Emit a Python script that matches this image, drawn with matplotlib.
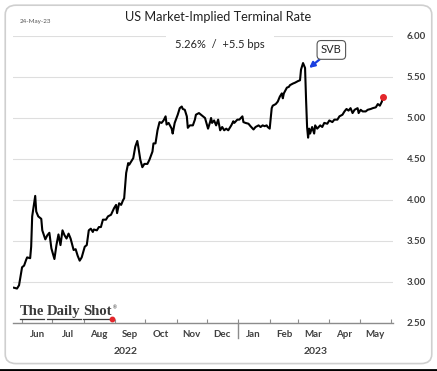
import pandas as pd
import matplotlib
matplotlib.use('Agg')
import matplotlib.pyplot as plt
import matplotlib.dates as mdates
from matplotlib.patches import FancyBboxPatch
from matplotlib.lines import Line2D
from matplotlib.ticker import FormatStrFormatter

plt.rcParams['font.family'] = ['Lato', 'DejaVu Sans']

# terminal rate (%), roughly every 2-3 days
dates = [
    '2022-05-24', '2022-05-27', '2022-05-29', '2022-06-01', '2022-06-03', '2022-06-05',
    '2022-06-06', '2022-06-09', '2022-06-10', '2022-06-11', '2022-06-14', '2022-06-15',
    '2022-06-17', '2022-06-20', '2022-06-21', '2022-06-24', '2022-06-26', '2022-06-28',
    '2022-06-30', '2022-07-03', '2022-07-05', '2022-07-07', '2022-07-09', '2022-07-11',
    '2022-07-13', '2022-07-15', '2022-07-17', '2022-07-19', '2022-07-22', '2022-07-24',
    '2022-07-26', '2022-07-28', '2022-07-30', '2022-08-02', '2022-08-04', '2022-08-06',
    '2022-08-08', '2022-08-10', '2022-08-11', '2022-08-14', '2022-08-16', '2022-08-18',
    '2022-08-20', '2022-08-23', '2022-08-25', '2022-08-28', '2022-08-31', '2022-09-02',
    '2022-09-03', '2022-09-05', '2022-09-07', '2022-09-09', '2022-09-10', '2022-09-12',
    '2022-09-14', '2022-09-15', '2022-09-17', '2022-09-19', '2022-09-21', '2022-09-23',
    '2022-09-24', '2022-09-26', '2022-09-28', '2022-09-30', '2022-10-03', '2022-10-05',
    '2022-10-08', '2022-10-09', '2022-10-11', '2022-10-13', '2022-10-15', '2022-10-17',
    '2022-10-19', '2022-10-21', '2022-10-22', '2022-10-24', '2022-10-27', '2022-10-28',
    '2022-10-30', '2022-11-02', '2022-11-04', '2022-11-06', '2022-11-07', '2022-11-09',
    '2022-11-11', '2022-11-12', '2022-11-14', '2022-11-17', '2022-11-19', '2022-11-20',
    '2022-11-23', '2022-11-25', '2022-11-27', '2022-11-29', '2022-12-02', '2022-12-04',
    '2022-12-05', '2022-12-06', '2022-12-08', '2022-12-10', '2022-12-12', '2022-12-14',
    '2022-12-16', '2022-12-18', '2022-12-20', '2022-12-22', '2022-12-25', '2022-12-27',
    '2022-12-28', '2022-12-31', '2023-01-02', '2023-01-05', '2023-01-06', '2023-01-08',
    '2023-01-11', '2023-01-13', '2023-01-16', '2023-01-18', '2023-01-21', '2023-01-23',
    '2023-01-25', '2023-01-27', '2023-01-29', '2023-01-30', '2023-02-01', '2023-02-03',
    '2023-02-04', '2023-02-07', '2023-02-09', '2023-02-11', '2023-02-13', '2023-02-14',
    '2023-02-15', '2023-02-18', '2023-02-20', '2023-02-21', '2023-02-24', '2023-02-26',
    '2023-03-01', '2023-03-03', '2023-03-04', '2023-03-06', '2023-03-08', '2023-03-09',
    '2023-03-10', '2023-03-11', '2023-03-12', '2023-03-13', '2023-03-15', '2023-03-17',
    '2023-03-18', '2023-03-20', '2023-03-23', '2023-03-25', '2023-03-27', '2023-03-30',
    '2023-04-01', '2023-04-04', '2023-04-06', '2023-04-09', '2023-04-11', '2023-04-14',
    '2023-04-16', '2023-04-18', '2023-04-20', '2023-04-22', '2023-04-24', '2023-04-26',
    '2023-04-29', '2023-04-30', '2023-05-02', '2023-05-04', '2023-05-07', '2023-05-09',
    '2023-05-12', '2023-05-14', '2023-05-17', '2023-05-19', '2023-05-21', '2023-05-23',
    '2023-05-24',
]
rates = [
    2.93, 2.92, 2.96, 3.18, 3.20, 3.27,
    3.30, 3.29, 3.43, 3.80, 4.05, 3.86,
    3.80, 3.77, 3.63, 3.52, 3.57, 3.60,
    3.41, 3.28, 3.45, 3.58, 3.45, 3.63,
    3.57, 3.53, 3.59, 3.53, 3.39, 3.40,
    3.32, 3.26, 3.30, 3.43, 3.45, 3.63,
    3.65, 3.61, 3.64, 3.63, 3.67, 3.67,
    3.76, 3.76, 3.80, 3.82, 3.90, 3.94,
    3.84, 3.96, 3.94, 4.00, 4.02, 4.33,
    4.45, 4.43, 4.47, 4.51, 4.65, 4.72,
    4.65, 4.49, 4.40, 4.44, 4.44, 4.49,
    4.59, 4.69, 4.69, 4.85, 4.95, 4.94,
    4.97, 5.02, 4.92, 4.94, 4.87, 4.81,
    4.94, 5.04, 5.12, 5.14, 5.11, 5.10,
    5.02, 4.88, 4.91, 4.91, 4.98, 5.04,
    5.06, 5.04, 5.02, 5.00, 4.87, 4.95,
    5.00, 4.94, 4.97, 4.91, 4.98, 4.85,
    4.89, 4.85, 4.87, 4.85, 4.91, 4.96,
    4.94, 4.98, 4.98, 5.02, 4.95, 4.94,
    4.93, 4.90, 4.86, 4.89, 4.91, 4.89,
    4.91, 4.90, 4.91, 4.89, 4.87, 5.12,
    5.15, 5.17, 5.20, 5.26, 5.30, 5.24,
    5.30, 5.37, 5.38, 5.40, 5.42, 5.43,
    5.45, 5.46, 5.59, 5.67, 5.61, 5.22,
    4.89, 4.76, 4.87, 4.81, 4.89, 4.81,
    4.91, 4.87, 4.91, 4.89, 4.94, 4.93,
    4.97, 4.95, 4.98, 4.98, 5.02, 5.04,
    5.08, 5.11, 5.09, 5.12, 5.06, 5.10,
    5.12, 5.06, 5.10, 5.08, 5.08, 5.10,
    5.11, 5.12, 5.13, 5.17, 5.15, 5.20,
    5.26,
]

y_ticks = [2.50, 3.00, 3.50, 4.00, 4.50, 5.00, 5.50, 6.00]
year_labels = ['2022', '2023']
title = 'US Market-Implied Terminal Rate'
subtitle = '5.26%  /  +5.5 bps'
as_of = '24-May-23'
logo_words = ['The', 'Daily', 'Shot']

x = pd.to_datetime(dates)
x_start, x_end = pd.Timestamp('2022-05-23'), pd.Timestamp('2023-06-03')
year_break = pd.Timestamp('2023-01-01')

fig = plt.figure(figsize=(4.37, 3.71), dpi=100)
fig.patch.set_facecolor('white')

# rounded card frame
card = FancyBboxPatch((0.012, 0.02), 0.976, 0.966, boxstyle='round,pad=0,rounding_size=0.025',
                      transform=fig.transFigure, fc='none', ec='#cfcfcf', lw=1.2)
fig.patches.append(card)
fig.lines.append(Line2D([0, 1], [0.003, 0.003], transform=fig.transFigure, color='black', lw=2))

ax = fig.add_axes([0.0297, 0.1294, 0.8696, 0.7736])
ax.plot(x, rates, color='black', lw=1.5, zorder=3)
ax.plot(x[-1], rates[-1], 'o', color='#e3262b', ms=4, zorder=4)

ax.set_xlim(x_start, x_end)
ax.set_ylim(2.5, 6.0)

# y axis on the right
ax.yaxis.tick_right()
ax.set_yticks(y_ticks)
ax.yaxis.set_major_formatter(FormatStrFormatter('%.2f'))
ax.tick_params(axis='y', length=0, pad=10, labelsize=7, labelcolor='#404040')
for lab in ax.get_yticklabels():
    lab.set_fontweight('bold')
ax.grid(axis='y', color='#dedede', lw=0.8, zorder=0)

for side in ['top', 'left', 'right']:
    ax.spines[side].set_visible(False)
ax.spines['bottom'].set_color('#8c8c8c')
ax.spines['bottom'].set_linewidth(1.0)

# month ticks at month starts, labels mid-month
ax.xaxis.set_major_locator(mdates.MonthLocator())
ax.xaxis.set_major_formatter(plt.NullFormatter())
ax.xaxis.set_minor_locator(mdates.MonthLocator(bymonthday=16))
ax.xaxis.set_minor_formatter(mdates.DateFormatter('%b'))
ax.tick_params(axis='x', which='major', direction='in', length=3, color='#8c8c8c')
ax.tick_params(axis='x', which='minor', length=0, pad=5, labelsize=7, labelcolor='#404040')
for lab in ax.get_xticklabels(minor=True):
    lab.set_fontweight('bold')

# year divider and year labels
trans = ax.get_xaxis_transform()
ax.plot([year_break, year_break], [0, -0.052], transform=trans, color='#8c8c8c', lw=1, clip_on=False)
ax.text(x_start + (year_break - x_start) / 2, -0.1, year_labels[0], transform=trans,
        ha='center', va='center', fontsize=7.5, fontweight='bold', color='#404040')
ax.text(year_break + (x_end - year_break) / 2, -0.1, year_labels[1], transform=trans,
        ha='center', va='center', fontsize=7.5, fontweight='bold', color='#404040')

# texts
fig.text(0.5, 0.955, title, ha='center', va='center', fontsize=9.2, color='#222222')
fig.text(0.046, 0.943, as_of, ha='left', va='center', fontsize=4.5, color='#555555')
ax.text(0.545, 0.97, subtitle, transform=ax.transAxes, ha='center', va='center', fontsize=8,
        color='#222222', zorder=5,
        bbox=dict(boxstyle='square,pad=0.8', fc='white', ec='none'))

ax.annotate('SVB', xy=(pd.Timestamp('2023-03-12'), 5.61), xytext=(pd.Timestamp('2023-04-03'), 5.83),
            ha='center', va='center', fontsize=8, color='#222222', zorder=5,
            bbox=dict(boxstyle='round,pad=0.35', fc='white', ec='#555555', lw=0.8),
            arrowprops=dict(arrowstyle='-|>', color='#1a3fe0', lw=1.6, mutation_scale=8,
                            shrinkA=0, shrinkB=0))

# The Daily Shot logo: underlined words, a small mark and a red dot
renderer = fig.canvas.get_renderer()
inv = fig.transFigure.inverted()
xpos = 0.046
for word in logo_words:
    t = fig.text(xpos, 0.151, word, family=['Liberation Serif', 'DejaVu Serif'],
                 fontsize=10.5, fontweight='bold', color='#3a3a3a', ha='left', va='baseline')
    bb = t.get_window_extent(renderer).transformed(inv)
    fig.lines.append(Line2D([bb.x0, bb.x1], [0.141, 0.141], transform=fig.transFigure,
                            color='#3a3a3a', lw=0.9))
    xpos = bb.x1 + 0.006
fig.text(bb.x1 + 0.002, 0.165, '®', fontsize=3.5, color='#3a3a3a', ha='left', va='baseline')
fig.lines.append(Line2D([bb.x1], [0.141], transform=fig.transFigure, marker='o',
                        color='#e3262b', ms=3.2))

fig.savefig('out.png', dpi=100)
